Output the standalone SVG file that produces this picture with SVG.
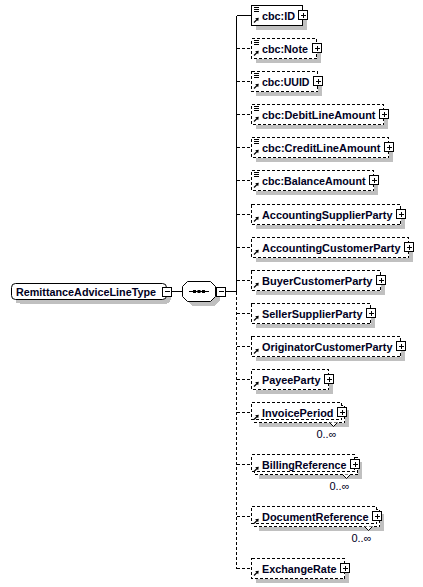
<svg xmlns="http://www.w3.org/2000/svg" xmlns:xlink="http://www.w3.org/1999/xlink" width="423" height="587" viewBox="0 0 423 587">
<style>
.bg{fill:#fff}
.box{fill:#fff;stroke:#000;stroke-width:1;shape-rendering:crispEdges}
.opt{stroke-dasharray:3 2}
.sh{fill:#c0c0c0;stroke:none;shape-rendering:crispEdges}
.t{font-family:"Liberation Sans",Arial,sans-serif;font-size:11.5px;font-weight:bold;fill:#000022}
.m{font-family:"Liberation Sans",Arial,sans-serif;font-size:11px;fill:#000022}
.ln{fill:none;stroke:#000;stroke-width:1;shape-rendering:crispEdges}
.dash{stroke-dasharray:3 2}
</style>
<defs>
<g id="plus"><rect x="-4.5" y="-4.5" width="9" height="9" fill="#fff" stroke="#000" shape-rendering="crispEdges"/><path d="M-2.5 0H2.5M0 -2.5V2.5" stroke="#000" shape-rendering="crispEdges"/></g>
<g id="minus"><rect x="-4.5" y="-4.5" width="9" height="9" fill="#fff" stroke="#000" shape-rendering="crispEdges"/><path d="M-2.5 0H2.5" stroke="#000" shape-rendering="crispEdges"/></g>
<path id="doc" d="M0 0H5M0 2H5M0 4H5" stroke="#000" shape-rendering="crispEdges"/>
<g id="ref"><path d="M0 0L3 -3" stroke="#000" stroke-width="1.2"/><path d="M4.8 -4.8L1.2 -4.2L4.2 -1.2Z" fill="#000"/></g>
</defs>
<rect class="bg" x="0" y="0" width="423" height="587"/>

<g id="connectors">
<path class="ln" d="M171.5 291.5H182.5"/>
<path class="ln" d="M225.5 291.5H236.5"/>
<path class="ln" d="M236.5 15.5V291.5"/>
<path class="ln dash" d="M236.5 291.5V568.5"/>
<path class="ln" d="M236.5 15.5H251.5"/>
<path class="ln dash" d="M236.5 48.5H251.5M236.5 81.5H251.5M236.5 114.5H251.5M236.5 147.5H251.5M236.5 180.5H251.5M236.5 214.5H251.5M236.5 247.5H251.5M236.5 280.5H251.5M236.5 313.5H251.5M236.5 346.5H251.5M236.5 379.5H251.5M236.5 412.5H251.5M236.5 464.5H251.5M236.5 516.5H251.5M236.5 568.5H251.5"/>
</g>

<g id="root">
<rect class="sh" x="15.5" y="287.5" width="155" height="16" rx="4"/>
<rect class="box" x="11.5" y="283.5" width="155" height="16" rx="4" style="shape-rendering:auto"/>
<text class="t" x="16" y="295.5" textLength="140" lengthAdjust="spacingAndGlyphs">RemittanceAdviceLineType</text>
<use xlink:href="#minus" x="167" y="291.5"/>
</g>

<g id="sequence">
<polygon class="sh" points="191.5,285.5 214.5,285.5 219.5,290.5 219.5,300.5 214.5,305.5 191.5,305.5 186.5,300.5 186.5,290.5"/>
<polygon points="187.5,281.5 210.5,281.5 215.5,286.5 215.5,296.5 210.5,301.5 187.5,301.5 182.5,296.5 182.5,286.5" fill="#fff" stroke="#000"/>
<path class="ln" d="M189 291.5H209"/>
<rect x="193" y="290" width="3" height="3" fill="#000"/>
<rect x="197.5" y="290" width="3" height="3" fill="#000"/>
<rect x="202" y="290" width="3" height="3" fill="#000"/>
<use xlink:href="#minus" x="221" y="291.5"/>
</g>

<g id="cbc-ID">
<rect class="sh" x="255.5" y="9.5" width="51" height="20"/>
<rect class="box" x="251.5" y="5.5" width="51" height="20"/>
<use xlink:href="#doc" x="254" y="7.5"/>
<use xlink:href="#ref" x="254" y="22.5"/>
<text class="t" x="262" y="19.5" textLength="33" lengthAdjust="spacingAndGlyphs">cbc:ID</text>
<use xlink:href="#plus" x="303" y="15"/>
</g>

<g id="cbc-Note">
<rect class="sh" x="255.5" y="42.5" width="65" height="20"/>
<rect class="box opt" x="251.5" y="38.5" width="65" height="20"/>
<use xlink:href="#doc" x="254" y="40.5"/>
<use xlink:href="#ref" x="254" y="55.5"/>
<text class="t" x="262" y="52.5" textLength="46" lengthAdjust="spacingAndGlyphs">cbc:Note</text>
<use xlink:href="#plus" x="317" y="48"/>
</g>

<g id="cbc-UUID">
<rect class="sh" x="255.5" y="75.5" width="66" height="20"/>
<rect class="box opt" x="251.5" y="71.5" width="66" height="20"/>
<use xlink:href="#doc" x="254" y="73.5"/>
<use xlink:href="#ref" x="254" y="88.5"/>
<text class="t" x="262" y="85.5" textLength="47.5" lengthAdjust="spacingAndGlyphs">cbc:UUID</text>
<use xlink:href="#plus" x="318" y="81"/>
</g>

<g id="cbc-DebitLineAmount">
<rect class="sh" x="255.5" y="108.5" width="132" height="20"/>
<rect class="box opt" x="251.5" y="104.5" width="132" height="20"/>
<use xlink:href="#doc" x="254" y="106.5"/>
<use xlink:href="#ref" x="254" y="121.5"/>
<text class="t" x="262" y="118.5" textLength="113.5" lengthAdjust="spacingAndGlyphs">cbc:DebitLineAmount</text>
<use xlink:href="#plus" x="384" y="114"/>
</g>

<g id="cbc-CreditLineAmount">
<rect class="sh" x="255.5" y="141.5" width="137" height="20"/>
<rect class="box opt" x="251.5" y="137.5" width="137" height="20"/>
<use xlink:href="#doc" x="254" y="139.5"/>
<use xlink:href="#ref" x="254" y="154.5"/>
<text class="t" x="262" y="151.5" textLength="118.5" lengthAdjust="spacingAndGlyphs">cbc:CreditLineAmount</text>
<use xlink:href="#plus" x="389" y="147"/>
</g>

<g id="cbc-BalanceAmount">
<rect class="sh" x="255.5" y="174.5" width="122" height="20"/>
<rect class="box opt" x="251.5" y="170.5" width="122" height="20"/>
<use xlink:href="#doc" x="254" y="172.5"/>
<use xlink:href="#ref" x="254" y="187.5"/>
<text class="t" x="262" y="184.5" textLength="103.5" lengthAdjust="spacingAndGlyphs">cbc:BalanceAmount</text>
<use xlink:href="#plus" x="374" y="180"/>
</g>

<g id="AccountingSupplierParty">
<rect class="sh" x="255.5" y="208.5" width="149" height="20"/>
<rect class="box opt" x="251.5" y="204.5" width="149" height="20"/>
<use xlink:href="#ref" x="254" y="221.5"/>
<text class="t" x="262" y="218.5" textLength="130.5" lengthAdjust="spacingAndGlyphs">AccountingSupplierParty</text>
<use xlink:href="#plus" x="401" y="214"/>
</g>

<g id="AccountingCustomerParty">
<rect class="sh" x="255.5" y="241.5" width="157" height="20"/>
<rect class="box opt" x="251.5" y="237.5" width="157" height="20"/>
<use xlink:href="#ref" x="254" y="254.5"/>
<text class="t" x="262" y="251.5" textLength="138.5" lengthAdjust="spacingAndGlyphs">AccountingCustomerParty</text>
<use xlink:href="#plus" x="409" y="247"/>
</g>

<g id="BuyerCustomerParty">
<rect class="sh" x="255.5" y="274.5" width="129" height="20"/>
<rect class="box opt" x="251.5" y="270.5" width="129" height="20"/>
<use xlink:href="#ref" x="254" y="287.5"/>
<text class="t" x="262" y="284.5" textLength="110.5" lengthAdjust="spacingAndGlyphs">BuyerCustomerParty</text>
<use xlink:href="#plus" x="381" y="280"/>
</g>

<g id="SellerSupplierParty">
<rect class="sh" x="255.5" y="307.5" width="119" height="20"/>
<rect class="box opt" x="251.5" y="303.5" width="119" height="20"/>
<use xlink:href="#ref" x="254" y="320.5"/>
<text class="t" x="262" y="317.5" textLength="100.5" lengthAdjust="spacingAndGlyphs">SellerSupplierParty</text>
<use xlink:href="#plus" x="371" y="313"/>
</g>

<g id="OriginatorCustomerParty">
<rect class="sh" x="255.5" y="340.5" width="149" height="20"/>
<rect class="box opt" x="251.5" y="336.5" width="149" height="20"/>
<use xlink:href="#ref" x="254" y="353.5"/>
<text class="t" x="262" y="350.5" textLength="130.5" lengthAdjust="spacingAndGlyphs">OriginatorCustomerParty</text>
<use xlink:href="#plus" x="401" y="346"/>
</g>

<g id="PayeeParty">
<rect class="sh" x="255.5" y="373.5" width="77" height="20"/>
<rect class="box opt" x="251.5" y="369.5" width="77" height="20"/>
<use xlink:href="#ref" x="254" y="386.5"/>
<text class="t" x="262" y="383.5" textLength="58.5" lengthAdjust="spacingAndGlyphs">PayeeParty</text>
<use xlink:href="#plus" x="329" y="379"/>
</g>

<g id="InvoicePeriod">
<rect class="sh" x="258.5" y="409.5" width="90" height="17"/>
<rect class="box opt" x="254.5" y="405.5" width="90" height="17"/>
<rect class="box opt" x="251.5" y="402.5" width="90" height="17"/>
<path d="M329.5 422.5L333.5 426.5L337.5 422.5" fill="#fff" stroke="#000"/>
<use xlink:href="#ref" x="254" y="419.5"/>
<text class="t" x="262" y="416.5" textLength="71.5" lengthAdjust="spacingAndGlyphs">InvoicePeriod</text>
<use xlink:href="#plus" x="342" y="412"/>
<text class="m" x="336.5" y="437.5" text-anchor="end">0..∞</text>
</g>

<g id="BillingReference">
<rect class="sh" x="258.5" y="461.5" width="103" height="17"/>
<rect class="box opt" x="254.5" y="457.5" width="103" height="17"/>
<rect class="box opt" x="251.5" y="454.5" width="103" height="17"/>
<path d="M342.5 474.5L346.5 478.5L350.5 474.5" fill="#fff" stroke="#000"/>
<use xlink:href="#ref" x="254" y="471.5"/>
<text class="t" x="262" y="468.5" textLength="84.5" lengthAdjust="spacingAndGlyphs">BillingReference</text>
<use xlink:href="#plus" x="355" y="464"/>
<text class="m" x="349.5" y="489.5" text-anchor="end">0..∞</text>
</g>

<g id="DocumentReference">
<rect class="sh" x="258.5" y="513.5" width="125" height="17"/>
<rect class="box opt" x="254.5" y="509.5" width="125" height="17"/>
<rect class="box opt" x="251.5" y="506.5" width="125" height="17"/>
<path d="M364.5 526.5L368.5 530.5L372.5 526.5" fill="#fff" stroke="#000"/>
<use xlink:href="#ref" x="254" y="523.5"/>
<text class="t" x="262" y="520.5" textLength="106.5" lengthAdjust="spacingAndGlyphs">DocumentReference</text>
<use xlink:href="#plus" x="377" y="516"/>
<text class="m" x="371.5" y="541.5" text-anchor="end">0..∞</text>
</g>

<g id="ExchangeRate">
<rect class="sh" x="255.5" y="562.5" width="93" height="20"/>
<rect class="box opt" x="251.5" y="558.5" width="93" height="20"/>
<use xlink:href="#ref" x="254" y="575.5"/>
<text class="t" x="262" y="572.5" textLength="74.5" lengthAdjust="spacingAndGlyphs">ExchangeRate</text>
<use xlink:href="#plus" x="345" y="568"/>
</g>
</svg>
